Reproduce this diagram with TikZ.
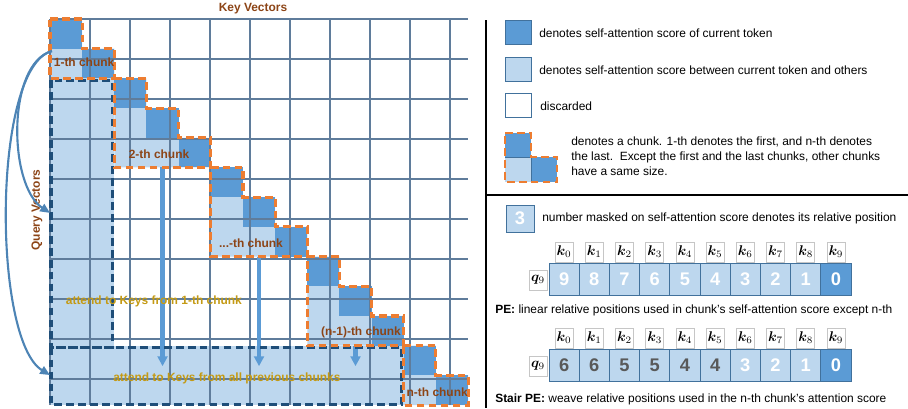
\documentclass[tikz,border=0pt]{standalone}
\usepackage{amsmath,bm}
\usepackage{fontspec}
\setmainfont{Liberation Sans}
\usetikzlibrary{arrows.meta}
\definecolor{curblue}{HTML}{5B9BD5}
\definecolor{othblue}{HTML}{BDD7EE}
\definecolor{gridline}{HTML}{5F7C9B}
\definecolor{cellrim}{HTML}{41719C}
\definecolor{chunkorange}{HTML}{ED7D31}
\definecolor{attdark}{HTML}{1F4E79}
\definecolor{chunkbrown}{HTML}{8C4416}
\definecolor{attgold}{HTML}{C49A14}
\definecolor{numgray}{HTML}{595959}
\newcommand{\lblsize}{\fontsize{8.5}{10.7}\selectfont}
\newcommand{\numsize}{\fontsize{13}{13}\selectfont}

\begin{document}
\begin{tikzpicture}[
    x=0.025cm, y=-0.025cm,
    cur/.style={fill=curblue},
    oth/.style={fill=othblue},
    chunkbox/.style={draw=chunkorange, line width=2.2pt, dash pattern=on 5.5pt off 3pt},
    attbox/.style={draw=attdark, line width=2.2pt, dash pattern=on 5.5pt off 3pt},
    chunklbl/.style={font=\lblsize\bfseries, text=chunkbrown, inner sep=0pt},
    attlbl/.style={font=\lblsize\bfseries, text=attgold, inner sep=0pt},
    flow/.style={curblue, line width=3pt, -{Triangle[width=7pt,length=7pt]}},
    query/.style={curblue!85!black, line width=1.5pt, -{Triangle[width=6pt,length=7pt]}},
    legtxt/.style={font=\lblsize, anchor=west, inner sep=0pt, align=left},
    legcell/.style={draw=cellrim, line width=0.6pt, minimum width=0.65cm, minimum height=0.6cm, inner sep=0pt},
    kbox/.style={draw=gray!45, line width=0.5pt, inner sep=1pt, minimum width=0.45cm, minimum height=0.5cm},
    score/.style={draw=cellrim, line width=0.6pt, minimum width=0.755cm, minimum height=0.8cm, inner sep=0pt, font=\numsize\bfseries, text=white}
    ]
    \useasboundingbox (0,0) rectangle (908,408);
    \node[font=\lblsize\bfseries, text=chunkbrown] (keys) at (253,9) {Key Vectors};
    \node[font=\lblsize\bfseries, text=chunkbrown, rotate=90] (queries) at (37,210) {Query Vectors};
    \begin{scope}[shift={(50,19)}, x=0.80375cm, y=-0.74225cm]
      \fill[othblue] (0,2) rectangle (2,13);
      \fill[othblue] (0,11) rectangle (11,13);
      \foreach \s/\n in {0/2,2/3,5/3,8/3,11/2}
        \fill[othblue] (\s,\s) \foreach \k in {1,...,\n} { -| ++(1,1) } -- ++(-\n,0) -- cycle;
      \foreach \d in {0,...,12}
        \fill[curblue] (\d,\d) rectangle ++(1,1);
      \draw[gridline, line width=0.9pt] (0,0) grid (13,13);
      \coordinate (s2) at (3.5,5);
      \coordinate (s3) at (6.5,8);
      \coordinate (s4) at (9.5,11);
      \coordinate (e2) at (3.5,11.69);
      \coordinate (e3) at (6.5,11.69);
      \coordinate (e4) at (9.5,11.69);
      \coordinate (q0) at (0.06,1.08);
      \coordinate (qa) at (0,6.53);
      \coordinate (qb) at (0,11.99);
      \draw[flow] (s2) -- (e2);
      \draw[flow] (s3) -- (e3);
      \draw[flow] (s4) -- (e4);
      \draw[attbox] (0.03,2.07) rectangle (1.93,11.07);
      \draw[attbox] (0.03,11.07) rectangle (10.93,12.97);
      \foreach \s/\n in {0/2,2/3,5/3,8/3,11/2}
        \draw[chunkbox] (\s,\s) \foreach \k in {1,...,\n} { -| ++(1,1) } -- ++(-\n,0) -- cycle;
      \draw[query] (q0) .. controls (-1.35,1.5) and (-1.3,5.6) .. (qa);
      \draw[query] (q0) .. controls (-1.8,1.6) and (-1.8,10.8) .. (qb);
      \node[chunklbl] (c1) at (1.06,1.45) {1-th chunk};
      \node[chunklbl] (c2) at (3.39,4.55) {2-th chunk};
      \node[chunklbl] (c3) at (6.25,7.54) {...-th chunk};
      \node[chunklbl] (c4) at (9.67,10.54) {(n-1)-th chunk};
      \node[chunklbl] (c5) at (12.04,12.56) {n-th chunk};
      \node[attlbl] (a1) at (3.23,9.5) {attend to Keys from 1-th chunk};
      \node[attlbl] (a2) at (5.5,12.09) {attend to Keys from all previous chunks};
    \end{scope}
    \draw[line width=2pt] (486,20) -- (486,408);
    \draw[line width=2pt] (486,195) -- (908,195);
    \node[legcell, cur] (lg1) at (518,32) {};
    \node[legtxt] (lt1) at (539,33) {denotes self-attention score of current token};
    \node[legcell, oth] (lg2) at (518,69) {};
    \node[legtxt] (lt2) at (539,70) {denotes self-attention score between current token and others};
    \node[legcell, fill=white] (lg3) at (518,105) {};
    \node[legtxt] (lt3) at (540,106) {discarded};
    \fill[curblue] (505,133) rectangle (531,157);
    \fill[othblue] (505,157) rectangle (531,182);
    \fill[curblue] (531,157) rectangle (557,182);
    \draw[cellrim, line width=0.6pt] (505,157) -- (531,157) -- (531,182);
    \draw[chunkbox, line width=2pt] (505,133) -| (531,157) -| (557,182) -- (505,182) -- cycle;
    \node[legtxt] (lt4) at (571,156) {denotes a chunk. 1-th denotes the first, and n-th denotes\\the last.\ \ Except the first and the last chunks, other chunks\\have a same size.};
    \node[legcell, oth, minimum width=0.7cm, minimum height=0.675cm, font=\numsize\bfseries, text=white] (lg5) at (520,218.5) {3};
    \node[legtxt] (lt5) at (542,218) {number masked on self-attention score denotes its relative position};
    \node[kbox] (qa9) at (538,280) {$\bm{q}_9$};
    \node[kbox] (qb9) at (538,366) {$\bm{q}_9$};
    \foreach \i in {0,...,9} {
      \node[kbox] (ka\i) at ({564.1+30.2*\i},252) {$\bm{k}_{\i}$};
      \node[kbox] (kb\i) at ({564.1+30.2*\i},338) {$\bm{k}_{\i}$};
    }
    \foreach \v [count=\i from 0] in {9,8,7,6,5,4,3,2,1}
      \node[score, oth] (pa\i) at ({564.1+30.2*\i},279) {\v};
    \node[score, cur] (pa9) at (835.9,279) {0};
    \foreach \v/\c [count=\i from 0] in {6/numgray,6/numgray,5/numgray,5/numgray,4/numgray,4/numgray,3/white,2/white,1/white}
      \node[score, oth, text=\c] (pb\i) at ({564.1+30.2*\i},365.5) {\v};
    \node[score, cur] (pb9) at (835.9,365.5) {0};
    \node[legtxt] (pe1) at (495,310) {\textbf{PE:} linear relative positions used in chunk's self-attention score except n-th};
    \node[legtxt] (pe2) at (495,399) {\textbf{Stair PE:} weave relative positions used in the n-th chunk's attention score};
  \end{tikzpicture}
\end{document}
